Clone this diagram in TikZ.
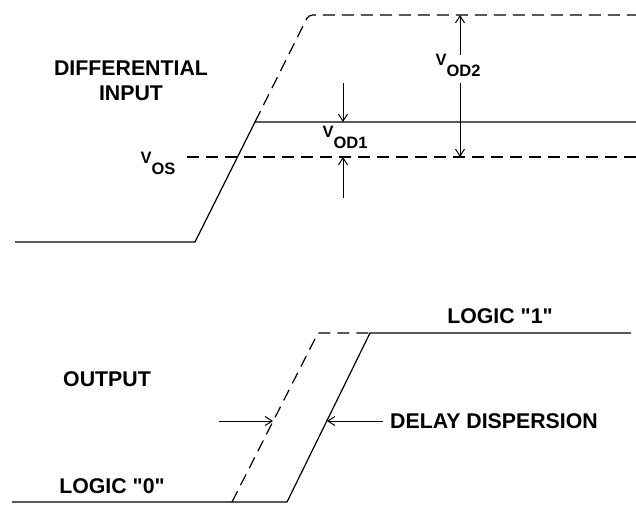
\documentclass[tikz,border=0pt]{standalone}
\usepackage{fontspec}
\newfontfamily\labelfont{Liberation Sans}
\usetikzlibrary{arrows.meta}

\newcommand{\vlabel}[1]{V\raisebox{-11.5pt}{#1}}

\begin{document}
\begin{tikzpicture}[x=1pt, y=-1pt, line width=1.2pt,
    dashwave/.style={dash pattern=on 12pt off 7pt},
    dim/.style={-{Straight Barb[length=7pt,width=9pt]}, line width=1pt},
    txt/.style={font=\labelfont\fontsize{21.3}{25}\selectfont\bfseries, inner sep=0pt, align=center},
    vtxt/.style={font=\labelfont\fontsize{16.5}{18}\selectfont\bfseries, inner sep=0pt, anchor=base west}]
\useasboundingbox (0,0) rectangle (636,504);

% Differential input
\coordinate (inLow) at (15,242);
\coordinate (inRise) at (195,242);
\coordinate (inHigh) at (255,122);
\coordinate (inEnd) at (636,122);
\coordinate (inTop) at (308.5,15);
\coordinate (inTopEnd) at (636,15);
\coordinate (osStart) at (187,157);
\coordinate (osEnd) at (636,157);
\draw (inLow) -- (inRise) -- (inHigh) -- (inEnd);
\draw[dashwave, rounded corners=4pt] (inHigh) -- (inTop) -- (inTopEnd);
\draw[dashwave] (osStart) -- (osEnd);

\node[txt] (diffIn) at (131,81) {DIFFERENTIAL\\INPUT};
\node[vtxt] (vos) at (140,163) {\vlabel{OS}};
\node[vtxt] (vod1) at (322,137) {\vlabel{OD1}};
\node[vtxt] (vod2) at (435,65) {\vlabel{OD2}};

% Overdrive arrows
\coordinate (od1A) at (343,83);
\coordinate (od1Hi) at (343,122);
\coordinate (od1B) at (343,198);
\coordinate (od1Lo) at (343,157);
\coordinate (od2A) at (460,55);
\coordinate (od2Hi) at (460,15);
\coordinate (od2B) at (460,83);
\coordinate (od2Lo) at (460,157);
\draw[dim] (od1A) -- (od1Hi);
\draw[dim] (od1B) -- (od1Lo);
\draw[dim] (od2A) -- (od2Hi);
\draw[dim] (od2B) -- (od2Lo);

% Output
\coordinate (outLow) at (12,502);
\coordinate (outRise) at (287,502);
\coordinate (outHigh) at (370,333);
\coordinate (outEnd) at (631,333);
\coordinate (dlyRise) at (232,502);
\coordinate (dlyHigh) at (318,333);
\draw (outLow) -- (outRise) -- (outHigh) -- (outEnd);
\draw[dashwave] (dlyRise) -- (dlyHigh) -- (outHigh);

\node[txt] (output) at (107,379) {OUTPUT};
\node[txt] (logic0) at (112,486) {LOGIC "0"};
\node[txt] (logic1) at (500,316) {LOGIC "1"};
\node[txt, inner xsep=7pt] (delay) at (494,421) {DELAY DISPERSION};

% Delay dispersion arrows
\coordinate (dlyArrow) at (219,421);
\coordinate (dlyTipA) at (273,421);
\coordinate (dlyTipB) at (327,421);
\draw[dim] (dlyArrow) -- (dlyTipA);
\draw[dim] (delay.west) -- (dlyTipB);

\end{tikzpicture}
\end{document}
